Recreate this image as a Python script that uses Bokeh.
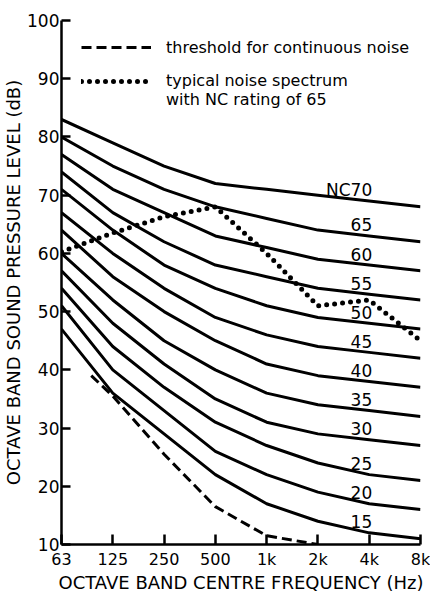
import numpy as np
from bokeh.plotting import figure
from bokeh.models import FixedTicker, Legend, LegendItem, Range1d
from bokeh.core.properties import value
from bokeh.embed import file_html
from bokeh.resources import INLINE

# ---------------- data ----------------
band_labels = ["63", "125", "250", "500", "1k", "2k", "4k", "8k"]
band_pos = [0, 1, 2, 3, 4, 5, 6, 7]
y_ticks = [10, 20, 30, 40, 50, 60, 70, 80, 90, 100]

nc_ratings = [15, 20, 25, 30, 35, 40, 45, 50, 55, 60, 65, 70]
nc15 = [47, 36, 29, 22, 17, 14, 12, 11]
nc20 = [51, 40, 33, 26, 22, 19, 17, 16]
nc25 = [54, 44, 37, 31, 27, 24, 22, 21]
nc30 = [57, 48, 41, 35, 31, 29, 28, 27]
nc35 = [60, 52, 45, 40, 36, 34, 33, 32]
nc40 = [64, 56, 50, 45, 41, 39, 38, 37]
nc45 = [67, 60, 54, 49, 46, 44, 43, 42]
nc50 = [71, 64, 58, 54, 51, 49, 48, 47]
nc55 = [74, 67, 62, 58, 56, 54, 53, 52]
nc60 = [77, 71, 67, 63, 61, 59, 58, 57]
nc65 = [80, 75, 71, 68, 66, 64, 63, 62]
nc70 = [83, 79, 75, 72, 71, 70, 69, 68]
nc_curves = [nc15, nc20, nc25, nc30, nc35, nc40, nc45, nc50, nc55, nc60, nc65, nc70]

noise_spectrum = [60.3, 63.5, 66.3, 68, 60, 51, 52, 45]

threshold_pos = [0.58, 1, 2, 3, 4, 5]
threshold_level = [39, 35.5, 25.5, 16.5, 11.5, 10]

label_band = 6  # NC labels sit above the 4k point

# ---------------- figure ----------------
FONT = "DejaVu Sans"
W, H = 430, 595
BL, BR, BT, BB = 54, 10, 20, 51
FB = H - BB  # frame bottom (px from top of figure)

p = figure(width=W, height=H, x_range=Range1d(0, 7), y_range=Range1d(10, 100),
           output_backend="svg", toolbar_location=None,
           min_border_left=BL, min_border_right=BR, min_border_top=BT, min_border_bottom=BB)
p.outline_line_color = None
p.grid.visible = False
p.background_fill_color = "white"
p.border_fill_color = "white"

for vals in nc_curves:
    p.line(band_pos, vals, line_width=3, line_color="black", line_join="round")

r_thr = p.line(threshold_pos, threshold_level, line_width=3, line_color="black",
               line_dash="10 5")
r_noise = p.line(band_pos, noise_spectrum, line_width=5, line_color="black",
                 line_dash="0 8", line_cap="round")
r_blank = p.line(x=[], y=[], line_alpha=0)

# NC labels
lab_x = [band_pos[label_band]] * len(nc_ratings)
lab_y = [c[label_band] for c in nc_curves]
lab_t = [("NC%d" % r) if r == 70 else str(r) for r in nc_ratings]
p.text(x=lab_x, y=lab_y, text=lab_t, text_align="right", text_baseline="middle",
       y_offset=-11, x_offset=3, text_font=value(FONT), text_font_size="17px",
       text_color="black")

# axes
p.xaxis.ticker = FixedTicker(ticks=band_pos)
p.xaxis.major_label_overrides = {i: t for i, t in zip(band_pos, band_labels)}
p.xaxis.major_tick_in = 10
p.xaxis.major_tick_out = 0
p.xaxis.minor_tick_line_color = None
p.xaxis.major_label_standoff = 5
p.xaxis.axis_label = "OCTAVE BAND CENTRE FREQUENCY (Hz)"
p.xaxis.axis_label_standoff = 0

p.yaxis.ticker = FixedTicker(ticks=y_ticks)
p.yaxis.major_tick_in = 9
p.yaxis.major_tick_out = 0
p.yaxis.minor_tick_line_color = None
p.yaxis.major_label_standoff = 2
p.yaxis.axis_label = "OCTAVE BAND SOUND PRESSURE LEVEL (dB)"
p.yaxis.axis_label_standoff = 0

for ax in (p.xaxis[0], p.yaxis[0]):
    ax.axis_line_width = 2.5
    ax.axis_line_color = "black"
    ax.major_tick_line_width = 2.5
    ax.major_tick_line_color = "black"
    ax.major_label_text_font = FONT
    ax.major_label_text_color = "black"
    ax.axis_label_text_font = FONT
    ax.axis_label_text_font_style = "normal"
    ax.axis_label_text_font_size = "18px"
    ax.axis_label_text_color = "black"
p.xaxis.major_label_text_font_size = "16px"
p.yaxis.major_label_text_font_size = "17px"

# legends (location = bottom-left corner of the legend, measured from the frame's bottom-left)
common = dict(padding=0, margin=0, border_line_color=None, background_fill_alpha=0,
              glyph_width=70, label_standoff=15, label_text_font=FONT,
              label_text_font_size="16px", label_text_color="black", spacing=0)
leg1 = Legend(items=[LegendItem(label="threshold for continuous noise", renderers=[r_thr])],
              location=(20, FB - 57), glyph_height=20, label_height=20, **common)
leg2 = Legend(items=[LegendItem(label="typical noise spectrum", renderers=[r_noise]),
                     LegendItem(label="with NC rating of 65", renderers=[r_blank])],
              location=(20, FB - 109), glyph_height=18, label_height=18, **common)
p.add_layout(leg1)
p.add_layout(leg2)

open("out.html", "w").write(file_html(p, INLINE))
